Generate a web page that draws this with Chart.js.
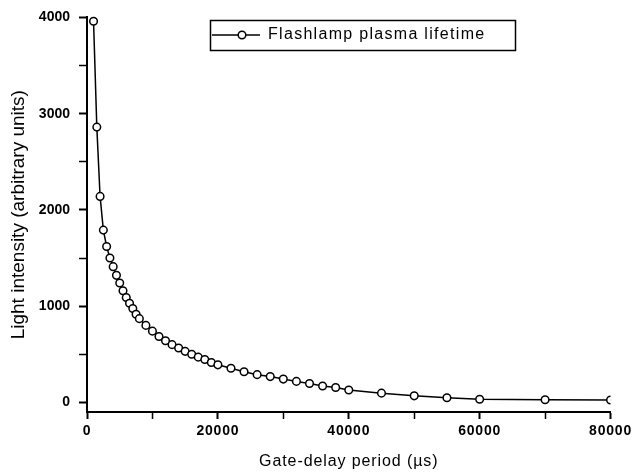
<!DOCTYPE html>
<html>
<head>
<meta charset="utf-8">
<script src="https://cdn.jsdelivr.net/npm/chart.js@4/dist/chart.umd.min.js"></script>
<style>
  html, body { margin: 0; padding: 0; background: #fff; }
  #wrap { width: 634px; height: 472px; position: relative; }
</style>
</head>
<body>
<div id="wrap"><canvas id="c" width="634" height="472"></canvas></div>
<script>
// ---- data ----
const seriesName = "Flashlamp plasma lifetime";
const xTitle = "Gate-delay period (\u00B5s)";
const yTitle = "Light intensity (arbitrary units)";

const gateDelay = [1000, 1500, 2000, 2500, 3000, 3500, 4000, 4500, 5000, 5500, 6000, 6500, 7000, 7500, 8000,
  9000, 10000, 11000, 12000, 13000, 14000, 15000, 16000, 17000, 18000, 19000, 20000,
  22000, 24000, 26000, 28000, 30000, 32000, 34000, 36000, 38000, 40000,
  45000, 50000, 55000, 60000, 70000, 80000];
const intensity = [3960, 2860, 2140, 1790, 1620, 1500, 1410, 1320, 1240, 1160, 1090, 1030, 975, 915, 870,
  800, 740, 685, 640, 600, 565, 530, 500, 470, 445, 415, 390,
  355, 318, 288, 268, 242, 218, 196, 170, 155, 128,
  96, 68, 48, 32, 27, 24];

const xTicks = [0, 10000, 20000, 30000, 40000, 50000, 60000, 70000, 80000];
const xLabelTicks = [0, 20000, 40000, 60000, 80000];
const yTicks = [0, 500, 1000, 1500, 2000, 2500, 3000, 3500, 4000];
const yLabelTicks = [0, 1000, 2000, 3000, 4000];

// ---- legend symbol: line with open circle ----
const sym = document.createElement('canvas');
sym.width = 48; sym.height = 12;
(function () {
  const g = sym.getContext('2d');
  g.strokeStyle = '#000'; g.lineWidth = 1.5;
  g.beginPath(); g.moveTo(0, 6); g.lineTo(48, 6); g.stroke();
  g.beginPath(); g.arc(30, 6, 3.8, 0, Math.PI * 2);
  g.fillStyle = '#fff'; g.fill(); g.stroke();
})();

const FONT = "'Liberation Sans', Arial, sans-serif";

const tweakPlugin = {
  id: 'tweak',
  afterLayout(chart) {
    const lg = chart.legend;
    if (lg) { lg.left = 202; lg.top = 17; }
    const ctx = chart.ctx;
    const wrap = (obj, name, sp) => {
      if (!obj || obj['_w_' + name]) return;
      const orig = obj[name];
      obj[name] = function (...a) {
        ctx.save(); ctx.letterSpacing = sp;
        const r = orig.apply(this, a);
        ctx.restore(); return r;
      };
      obj['_w_' + name] = true;
    };
    wrap(chart.scales.x, 'drawLabels', '0.8px');
    wrap(chart.scales.x, 'drawTitle', '0.9px');
    wrap(lg, 'draw', '1.3px');
  },
  afterDraw(chart) {
    const ctx = chart.ctx;
    ctx.save();
    ctx.strokeStyle = '#000';
    ctx.lineWidth = 1.5;
    ctx.strokeRect(210.5, 20.5, 305, 30);
    ctx.restore();
  }
};

new Chart(document.getElementById('c'), {
  type: 'line',
  data: {
    datasets: [{
      label: seriesName,
      data: gateDelay.map((x, i) => ({ x: x, y: intensity[i] })),
      borderColor: '#000',
      borderWidth: 1.5,
      backgroundColor: '#fff',
      pointRadius: 3.8,
      pointBorderWidth: 1.5,
      pointBackgroundColor: '#fff',
      pointBorderColor: '#000',
      pointStyle: 'circle',
      tension: 0,
      fill: false,
      clip: { left: 6, top: 6, right: 0, bottom: 6 }
    }]
  },
  options: {
    responsive: false,
    animation: false,
    events: [],
    layout: { padding: { top: 15, right: 21, left: 0, bottom: 0 } },
    plugins: {
      tooltip: { enabled: false },
      legend: {
        display: true,
        position: 'chartArea',
        align: 'start',
        labels: {
          usePointStyle: true,
          pointStyle: sym,
          pointStyleWidth: 48,
          boxHeight: 12,
          padding: 10,
          color: '#000',
          font: { family: FONT, size: 16 }
        }
      }
    },
    scales: {
      x: {
        type: 'linear',
        min: 0, max: 80000,
        afterBuildTicks: s => { s.ticks = xTicks.map(v => ({ value: v })); },
        afterFit: s => { s.height = 60; },
        border: { display: true, color: '#000', width: 2 },
        grid: { display: true, drawOnChartArea: false, drawTicks: true, tickLength: 7,
          tickColor: '#000', tickWidth: c => (xLabelTicks.includes(c.tick && c.tick.value) ? 2 : 1.5) },
        ticks: {
          autoSkip: false, maxRotation: 0, padding: 4, color: '#000',
          font: { family: FONT, size: 14, weight: 'bold' },
          callback: v => (xLabelTicks.includes(v) ? String(v) : '')
        },
        title: { display: true, text: xTitle, color: '#000', padding: { top: 0, bottom: 1 },
          font: { family: FONT, size: 16 } }
      },
      y: {
        type: 'linear',
        min: -100, max: 4000,
        afterBuildTicks: s => { s.ticks = yTicks.map(v => ({ value: v })); },
        afterFit: s => { s.width = 87; },
        border: { display: true, color: '#000', width: 2 },
        grid: { display: true, drawOnChartArea: false, drawTicks: true, tickLength: 8,
          tickColor: '#000', tickWidth: c => (yLabelTicks.includes(c.tick && c.tick.value) ? 2 : 1.5) },
        ticks: {
          autoSkip: false, padding: 9, color: '#000',
          font: { family: FONT, size: 14, weight: 'bold' },
          callback: v => (yLabelTicks.includes(v) ? String(v) : '')
        },
        title: { display: true, text: yTitle, color: '#000', padding: { top: 7, bottom: 0 },
          font: { family: FONT, size: 19 } }
      }
    }
  },
  plugins: [tweakPlugin]
});
</script>
</body>
</html>
